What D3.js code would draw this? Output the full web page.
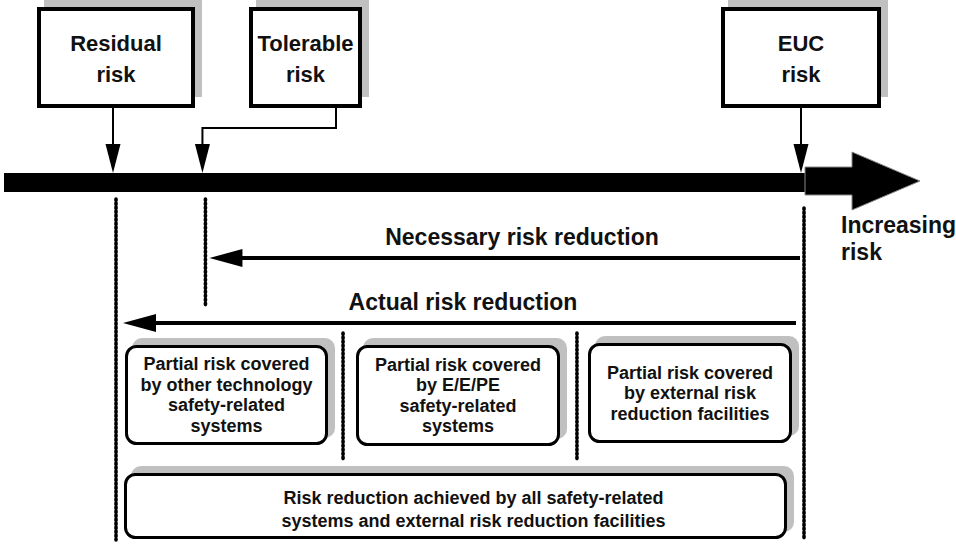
<!DOCTYPE html>
<html>
<head>
<meta charset="utf-8">
<script src="https://cdn.jsdelivr.net/npm/d3@7"></script>
<style>
  body { margin: 0; background: #fff; }
  text { font-family: "Liberation Sans", Arial, sans-serif; fill: #111; }
</style>
</head>
<body>
<div id="canvas"></div>
<script>
// ////////// DATA /////////////

// risk points on the axis (0 = residual, 100 = EUC)
var riskNames = ["Residual", "Tolerable", "EUC"]
var riskValues = [0, 13, 100]
var topLabels = [["Residual", "risk"], ["Tolerable", "risk"], ["EUC", "risk"]]

// split of the actual risk reduction
var splitValues = [0, 33, 67, 100]
var partialLabels = [
  ["Partial risk covered", "by other technology", "safety-related", "systems"],
  ["Partial risk covered", "by E/E/PE", "safety-related", "systems"],
  ["Partial risk covered", "by external risk", "reduction facilities"]
]

var reductionLabels = ["Necessary risk reduction", "Actual risk reduction"]
var reductionFrom = [100, 100]
var reductionTo = [13, 0]

var totalLabel = ["Risk reduction achieved by all safety-related",
  "systems and external risk reduction facilities"]

var axisLabel = ["Increasing", "risk"]

///////// GLOBAL VARS //////////

var width = 956, height = 547
var shadow = "#c0c0c0"

var svg = d3.select("#canvas")
  .append("svg")
  .attr("width", width)
  .attr("height", height)
  .style("background-color", "#fff")

// risk scale -> pixels
var x = d3.scaleLinear()
  .domain([0, 100])
  .range([116, 804])

var barY = 173, barH = 19

// main risk bar
svg.append("rect")
  .attr("x", 4)
  .attr("y", barY)
  .attr("width", x(100) + 2 - 4)
  .attr("height", barH)
  .attr("fill", "#000")

// big arrow head at the right end
var ax = x(100) + 1
svg.append("path")
  .attr("d", `M${ax},167 H${ax + 47} V152 L920,181 L${ax + 47},210 V195 H${ax} Z`)
  .attr("fill", "#000")
  .attr("stroke", "#888")
  .attr("stroke-width", 1)

svg.append("text")
  .attr("x", 841)
  .attr("font-size", 23)
  .attr("font-weight", "bold")
  .selectAll("tspan")
  .data(axisLabel)
  .join("tspan")
  .attr("x", 841)
  .attr("y", (d, i) => 233 + i * 27)
  .text(d => d)

/////// TOP BOXES ///////

// outer extents of the three boxes
var topBox = [
  { x0: 37, x1: 195 },
  { x0: 249, x1: 362 },
  { x0: 721, x1: 881 }
]
var topY0 = 7, topY1 = 108, sw = 4

topBox.forEach((b, i) => {
  var g = svg.append("g")
  g.append("rect")
    .attr("x", b.x0 + 7)
    .attr("y", topY0 - 8)
    .attr("width", b.x1 - b.x0)
    .attr("height", topY1 - topY0 - 3)
    .attr("fill", shadow)
  g.append("rect")
    .attr("x", b.x0 + sw / 2)
    .attr("y", topY0 + sw / 2)
    .attr("width", b.x1 - b.x0 - sw)
    .attr("height", topY1 - topY0 - sw)
    .attr("fill", "#fff")
    .attr("stroke", "#000")
    .attr("stroke-width", sw)
  var cx = (b.x0 + b.x1) / 2, cy = (topY0 + topY1) / 2
  g.append("text")
    .attr("text-anchor", "middle")
    .attr("font-size", 22)
    .attr("font-weight", "bold")
    .selectAll("tspan")
    .data(topLabels[i])
    .join("tspan")
    .attr("x", cx)
    .attr("y", (d, j) => cy + (j - (topLabels[i].length - 1) / 2) * 31 + 9)
    .text(d => d)
})

// small down arrow head
function downHead(tx, ty) {
  svg.append("path")
    .attr("d", `M${tx},${ty} L${tx - 7.5},${ty - 29} L${tx + 7.5},${ty - 29} Z`)
    .attr("fill", "#000")
}

// arrows from the top boxes to the bar
riskValues.forEach((v, i) => {
  var tx = x(v) - 3
  var d
  if (riskNames[i] == "Tolerable") {
    d = `M336,${topY1} V128 H${tx} V${barY - 29}`
  } else {
    d = `M${tx},${topY1} V${barY - 29}`
  }
  svg.append("path")
    .attr("d", d)
    .attr("fill", "none")
    .attr("stroke", "#000")
    .attr("stroke-width", 2)
  downHead(tx, barY)
})

/////// DOTTED GUIDES ///////

function dotted(xp, y0, y1) {
  svg.append("line")
    .attr("x1", xp).attr("x2", xp)
    .attr("y1", y0).attr("y2", y1)
    .attr("stroke", "#000")
    .attr("stroke-width", 3.6)
    .attr("stroke-linecap", "round")
    .attr("stroke-dasharray", "1.6 2.4")
}

dotted(x(riskValues[0]), 199, 540)
dotted(x(riskValues[1]), 199, 307)
dotted(x(riskValues[2]), 208, 539)
dotted(x(splitValues[1]), 333, 460)
dotted(x(splitValues[2]), 333, 460)

/////// REDUCTION ARROWS ///////

var redY = [258, 323]
var redLabelX = [522, 463]

reductionLabels.forEach((lab, i) => {
  var x1 = x(reductionFrom[i]) - (i == 0 ? 4 : 8)
  var tip = x(reductionTo[i]) + (i == 0 ? 4 : 7)
  var y = redY[i]
  svg.append("line")
    .attr("x1", x1).attr("x2", tip + 30)
    .attr("y1", y).attr("y2", y)
    .attr("stroke", "#000")
    .attr("stroke-width", 4)
  svg.append("path")
    .attr("d", `M${tip},${y} L${tip + 33},${y - 9} L${tip + 33},${y + 9} Z`)
    .attr("fill", "#000")
  svg.append("text")
    .attr("x", redLabelX[i])
    .attr("y", y - 13)
    .attr("text-anchor", "middle")
    .attr("font-size", 23)
    .attr("font-weight", "bold")
    .text(lab)
})

/////// PARTIAL BOXES ///////

function roundBox(x0, y0, x1, y1, r) {
  var g = svg.append("g")
  g.append("rect")
    .attr("x", x0 + 7).attr("y", y0 - 7)
    .attr("width", x1 - x0).attr("height", y1 - y0)
    .attr("rx", r).attr("ry", r)
    .attr("fill", shadow)
  g.append("rect")
    .attr("x", x0 + 1.5).attr("y", y0 + 1.5)
    .attr("width", x1 - x0 - 3).attr("height", y1 - y0 - 3)
    .attr("rx", r).attr("ry", r)
    .attr("fill", "#fff")
    .attr("stroke", "#000")
    .attr("stroke-width", 3)
  return g
}

var partBox = [
  { x0: 125, x1: 328, y0: 345, y1: 445 },
  { x0: 356, x1: 560, y0: 345, y1: 446 },
  { x0: 588, x1: 792, y0: 343, y1: 443 }
]

partialLabels.forEach((lines, i) => {
  var b = partBox[i]
  var g = roundBox(b.x0, b.y0, b.x1, b.y1, 10)
  var cx = (b.x0 + b.x1) / 2, cy = (b.y0 + b.y1) / 2
  g.append("text")
    .attr("text-anchor", "middle")
    .attr("font-size", 18)
    .attr("font-weight", "bold")
    .selectAll("tspan")
    .data(lines)
    .join("tspan")
    .attr("x", cx)
    .attr("y", (d, j) => cy + (j - (lines.length - 1) / 2) * 20.5 + 6)
    .text(d => d)
})

// total box
var tg = roundBox(124, 473, 787, 539, 10)
tg.append("text")
  .attr("text-anchor", "middle")
  .attr("font-size", 18)
  .attr("font-weight", "bold")
  .selectAll("tspan")
  .data(totalLabel)
  .join("tspan")
  .attr("x", (124 + 787) / 2 + 18)
  .attr("y", (d, j) => 506 + (j - 0.5) * 23 + 9)
  .text(d => d)
</script>
</body>
</html>
